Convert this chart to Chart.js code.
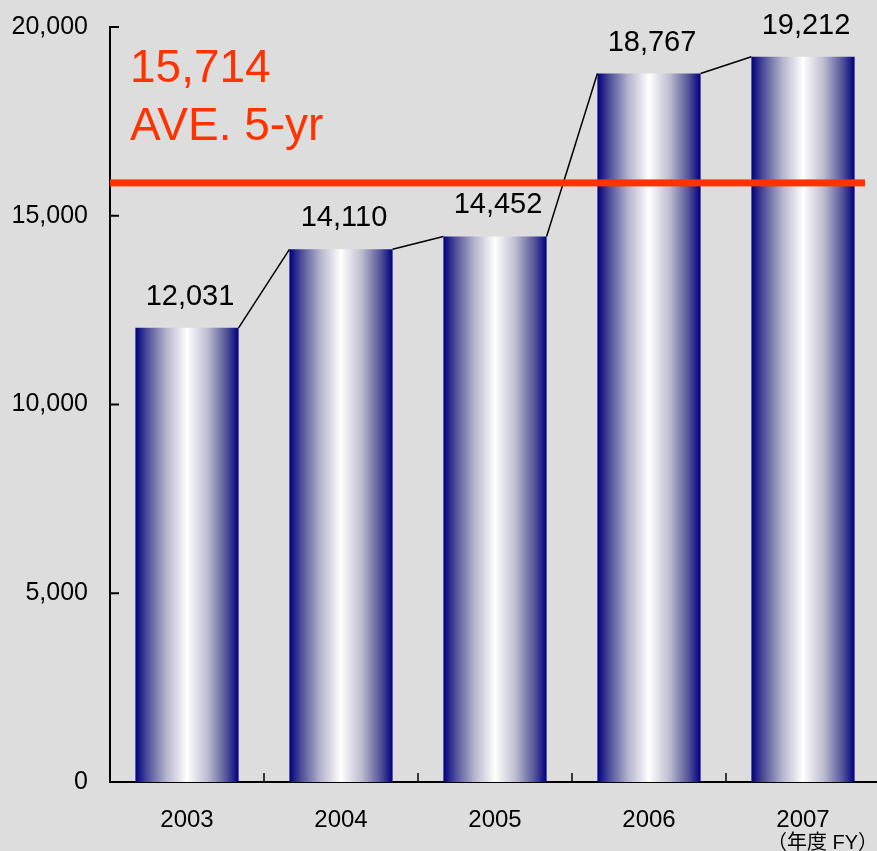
<!DOCTYPE html>
<html>

<head>
    <meta charset="utf-8">
    <title>chart</title>
    <script src="https://cdn.jsdelivr.net/npm/chart.js"></script>
    <style>
        html, body { margin: 0; padding: 0; overflow: hidden; background: #dddddd; }
        #wrap { width: 880px; height: 851px; }
    </style>
</head>

<body>
    <div id="wrap"><canvas id="myChart"></canvas></div>
    <script>
    // data
    var years = ['2003', '2004', '2005', '2006', '2007'];
    var counts = [12031, 14110, 14452, 18767, 19212];
    var yTicks = [0, 5000, 10000, 15000, 20000];
    var aveText = ['15,714', 'AVE. 5-yr'];
    var aveLineValue = 15870;
    var unitText = '（年度 FY）';

    var FONT = '"Liberation Sans", Arial, sans-serif';
    var barPct = 0.67;

    // bar gradient navy -> white -> navy, built from the x scale
    function barFill(c) {
        var chart = c.chart;
        var xs = chart.scales.x;
        if (!xs || !isFinite(xs.left) || !isFinite(xs.right) || xs.right <= xs.left) return '#000080';
        var catW = (xs.right - xs.left) / years.length;
        var cx = xs.getPixelForValue(c.dataIndex);
        if (!isFinite(cx)) return '#000080';
        var half = catW * barPct / 2;
        var g = chart.ctx.createLinearGradient(cx - half, 0, cx + half, 0);
        g.addColorStop(0, '#000080');
        g.addColorStop(0.12, '#50509a');
        g.addColorStop(0.3, '#b4b4cc');
        g.addColorStop(0.5, '#ffffff');
        g.addColorStop(0.7, '#bcbccf');
        g.addColorStop(0.88, '#56569a');
        g.addColorStop(1, '#000080');
        return g;
    }

    var extras = {
        id: 'extras',
        beforeDraw: function (chart) {
            var ctx = chart.ctx;
            ctx.save();
            ctx.fillStyle = '#dddddd';
            ctx.fillRect(0, 0, chart.width, chart.height);
            ctx.restore();
        },
        afterDatasetsDraw: function (chart) {
            var ctx = chart.ctx;
            var area = chart.chartArea;
            var xs = chart.scales.x, ys = chart.scales.y;
            var bars = chart.getDatasetMeta(0).data;

            ctx.save();
            // lines joining the bar tops
            ctx.strokeStyle = '#000';
            ctx.lineWidth = 1.5;
            for (var i = 0; i < bars.length - 1; i++) {
                var a = bars[i], b = bars[i + 1];
                ctx.beginPath();
                ctx.moveTo(a.x + a.width / 2, a.y);
                ctx.lineTo(b.x - b.width / 2, b.y);
                ctx.stroke();
            }

            // value labels
            ctx.fillStyle = '#000';
            ctx.font = '29px ' + FONT;
            ctx.textAlign = 'center';
            ctx.textBaseline = 'alphabetic';
            bars.forEach(function (el, i) {
                ctx.fillText(counts[i].toLocaleString('en-US'), el.x + 3, el.y - 23);
            });

            // average line
            var ay = ys.getPixelForValue(aveLineValue);
            ctx.fillStyle = '#ff3300';
            ctx.fillRect(area.left, ay - 3.5, area.right - area.left - 15, 7);

            ctx.font = '46px ' + FONT;
            ctx.textAlign = 'left';
            ctx.fillText(aveText[0], area.left + 20, 82);
            ctx.fillText(aveText[1], area.left + 20, 140);

            // tick marks inside the axes
            ctx.strokeStyle = '#000';
            ctx.lineWidth = 2;
            yTicks.forEach(function (v) {
                var y = ys.getPixelForValue(v);
                ctx.beginPath();
                ctx.moveTo(area.left, y);
                ctx.lineTo(area.left + 9, y);
                ctx.stroke();
            });
            var catW = (xs.right - xs.left) / years.length;
            ctx.lineWidth = 1.5;
            for (var j = 0; j < years.length - 1; j++) {
                var x = xs.getPixelForValue(j) + catW / 2;
                ctx.beginPath();
                ctx.moveTo(x, area.bottom);
                ctx.lineTo(x, area.bottom - 9);
                ctx.stroke();
            }

            // unit note
            ctx.fillStyle = '#000';
            ctx.font = '20px "Liberation Sans", "Noto Sans CJK JP", sans-serif';
            ctx.textAlign = 'right';
            ctx.fillText(unitText, 878, 849);
            ctx.restore();
        }
    };

    var ctx = document.getElementById('myChart').getContext('2d');
    var myChart = new Chart(ctx, {
        type: 'bar',
        data: {
            labels: years,
            datasets: [{
                data: counts,
                backgroundColor: barFill,
                borderWidth: 0,
                categoryPercentage: 1,
                barPercentage: barPct
            }]
        },
        options: {
            responsive: true,
            maintainAspectRatio: false,
            animation: false,
            layout: { padding: { top: 27, left: 0, right: 0, bottom: 0 } },
            plugins: {
                legend: { display: false },
                tooltip: { enabled: false }
            },
            scales: {
                x: {
                    grid: { display: false, drawTicks: false },
                    border: { display: true, color: '#000', width: 2 },
                    ticks: { color: '#000', padding: 24, font: { size: 24, family: FONT } },
                    afterFit: function (s) { s.height = 69; }
                },
                y: {
                    min: 0,
                    max: 20000,
                    afterBuildTicks: function (s) {
                        s.ticks = yTicks.map(function (v) { return { value: v }; });
                    },
                    grid: { display: false, drawTicks: false },
                    border: { display: true, color: '#000', width: 2 },
                    ticks: {
                        color: '#000',
                        padding: 22,
                        font: { size: 25, family: FONT },
                        callback: function (v) { return v.toLocaleString('en-US'); }
                    },
                    afterFit: function (s) {
                        s.width = 110;
                        s.paddingTop = 0;
                        s.paddingBottom = 0;
                    }
                }
            }
        },
        plugins: [extras]
    });
    </script>
</body>

</html>
